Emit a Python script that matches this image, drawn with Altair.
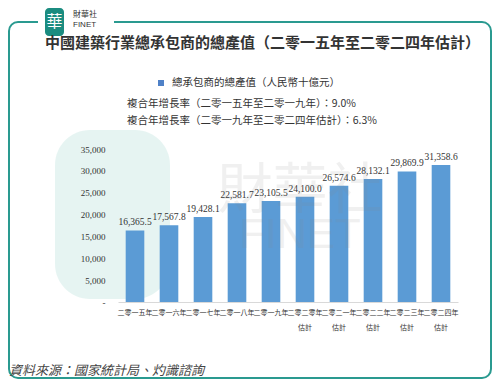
import altair as alt
import pandas as pd

years = ["二零一五年", "二零一六年", "二零一七年", "二零一八年", "二零一九年",
         "二零二零年", "二零二一年", "二零二二年", "二零二三年", "二零二四年"]
estimate = [False, False, False, False, False, True, True, True, True, True]
values = [16365.5, 17567.8, 19428.1, 22581.7, 23105.5,
          24100.0, 26574.6, 28132.1, 29869.9, 31358.6]
y_ticks = [0, 5000, 10000, 15000, 20000, 25000, 30000, 35000]

title_text = "中國建築行業總承包商的總產值（二零一五年至二零二四年估計）"
legend_text = "總承包商的總產值（人民幣十億元）"
cagr_lines = ["複合年增長率（二零一五年至二零一九年）：9.0%",
              "複合年增長率（二零一九年至二零二四年估計）：6.3%"]
source_text = "資料來源：國家統計局、灼識諮詢"

cats = [y + ("|估計" if e else "") for y, e in zip(years, estimate)]
df = pd.DataFrame({"cat": cats, "value": values,
                   "label": [f"{v:,.1f}" for v in values]})

CJK = "Noto Sans CJK TC"
SERIF = "Liberation Serif"
TEAL = "#2a9a90"
one = alt.Data(values=[{"k": 1}])

x_scale = alt.Scale(type="band", paddingInner=0.26, paddingOuter=0.13)
y_scale = alt.Scale(domain=[0, 35000], nice=False)
x_enc = alt.X("cat:N", sort=cats, title=None, scale=x_scale,
              axis=alt.Axis(labelExpr="split(datum.label, '|')", labelAngle=0,
                            labelFont=CJK, labelFontSize=7, labelColor="#333",
                            labelPadding=6, labelLineHeight=15, ticks=False,
                            labelOverlap=False,
                            domainColor="#d9d9d9", domainWidth=1, zindex=1))
y_enc = alt.Y("value:Q", title=None, scale=y_scale,
              axis=alt.Axis(values=y_ticks, grid=False, domain=False, ticks=False,
                            labelExpr="datum.value == 0 ? '-' : format(datum.value, ',')",
                            labelFont=SERIF, labelFontSize=9, labelColor="#333",
                            labelOverlap=False, labelPadding=13, zindex=1))

bars = alt.Chart(df).mark_bar(color="#5b9bd5",
                              width=alt.RelativeBandSize(0.74)).encode(x=x_enc, y=y_enc)
bar_labels = alt.Chart(df).mark_text(font=SERIF, fontSize=9.5, color="#333",
                                     dy=-8).encode(x=x_enc, y=y_enc, text="label:N")


def txt(s, x, y, size, color="#333", font=CJK, align="left", **kw):
    return alt.Chart(one).mark_text(align=align, baseline="middle", font=font,
                                    fontSize=size, color=color, **kw).encode(
        x=alt.value(x), y=alt.value(y), text=alt.value(s))


frame = alt.Chart(one).mark_rect(fill="white", fillOpacity=0, stroke=TEAL,
                                 strokeWidth=2, cornerRadius=9).encode(
    x=alt.value(-109), x2=alt.value(373), y=alt.value(-127), y2=alt.value(229))
gap = alt.Chart(one).mark_rect(fill="white").encode(
    x=alt.value(-80), x2=alt.value(-4), y=alt.value(-133), y2=alt.value(-121))
logo = alt.Chart(one).mark_rect(fill="#1b8c80", cornerRadius=4).encode(
    x=alt.value(-73), x2=alt.value(-54), y=alt.value(-141), y2=alt.value(-113))
logo_char = txt("華", -63.5, -127, 16, color="white", align="center")
logo_t1 = txt("財華社", -45, -134, 8, color="#333")
logo_t2 = txt("FINET", -45, -124, 8, color="#333", font="Liberation Sans")

wm_blob = alt.Chart(one).mark_rect(fill="#d6ecea", opacity=0.6, cornerRadius=35).encode(
    x=alt.value(-63), x2=alt.value(52), y=alt.value(-19), y2=alt.value(150))
wm_t1 = txt("財華社", 182, 42, 55, color="#888", align="center", opacity=0.12)
wm_t2 = txt("FINET", 182, 86, 42, color="#888", align="center", opacity=0.12,
            font="Liberation Sans")

title = txt(title_text, -73, -106, 15, color="#333", fontWeight="bold")
leg_sq = alt.Chart(one).mark_rect(fill="#4f81c7").encode(
    x=alt.value(40), x2=alt.value(46), y=alt.value(-69), y2=alt.value(-63))
leg_t = txt(legend_text, 54, -66, 10.5, color="#333")
cagr1 = txt(cagr_lines[0], 9, -45, 10.5, color="#333")
cagr2 = txt(cagr_lines[1], 9, -28, 10.5, color="#333")
source = txt(source_text, -109, 222, 13, color="#444", fontStyle="italic")

chart = alt.layer(
    frame, gap, logo, logo_char, logo_t1, logo_t2, wm_blob,
    bars, bar_labels, wm_t1, wm_t2, title, leg_sq, leg_t, cagr1, cagr2, source
).properties(
    width=340, height=153,
    autosize=alt.AutoSizeParams(type="none"),
    padding={"left": 110, "top": 141, "right": 34, "bottom": 77},
).configure_view(stroke=None).configure_scale(
    bandPaddingInner=0.26, bandPaddingOuter=0.13)

chart.save("out.html", embed_options={"renderer": "svg", "actions": False})
